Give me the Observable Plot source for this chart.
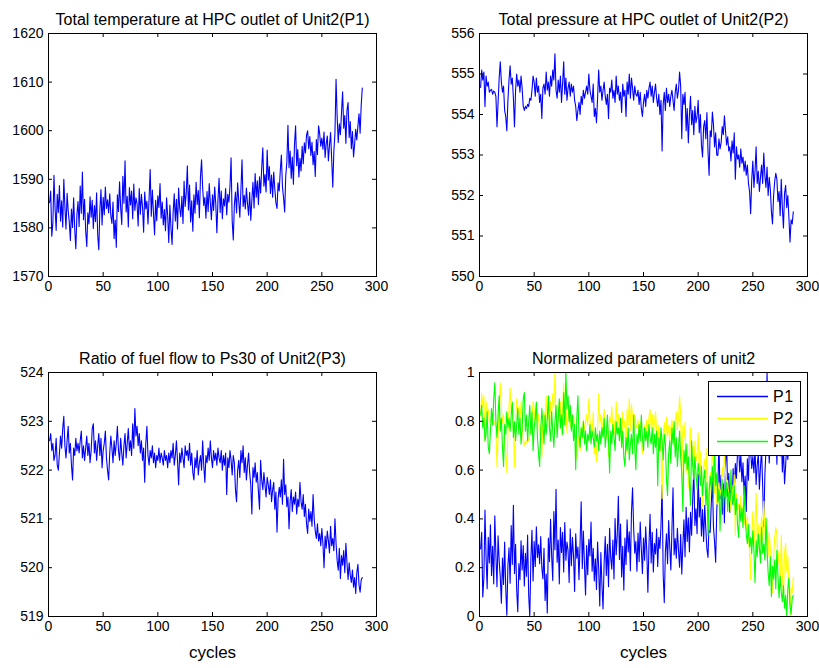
<!DOCTYPE html>
<html><head><meta charset="utf-8">
<script src="https://cdn.jsdelivr.net/npm/d3@7"></script>
<script src="https://cdn.jsdelivr.net/npm/@observablehq/plot@0.6"></script>
<style>
body{margin:0;background:#fff;}
#root{position:relative;width:819px;height:668px;overflow:hidden;font-family:"Liberation Sans",Arial,sans-serif;}
#root > svg{position:absolute;}
#legend{position:absolute;left:708px;top:381px;width:91px;height:73px;border:1px solid #000;background:#fff;}
#legend svg{position:absolute;left:0;top:0;}
</style></head><body><div id="root"></div>
<script>
const P1 = [
1585.2,1587.6,1578.3,1581.0,1590.8,1584.1,1579.5,1586.9,1583.2,1588.7,
1581.4,1585.6,1580.2,1590.0,1584.3,1579.8,1587.1,1583.5,1581.2,1577.4,
1583.9,1580.1,1586.2,1579.6,1575.7,1582.8,1585.4,1580.3,1588.6,1583.0,
1591.5,1581.7,1585.9,1579.4,1576.2,1583.1,1580.8,1586.4,1582.2,1585.7,
1579.9,1584.6,1581.3,1587.2,1578.5,1575.5,1583.8,1587.9,1580.6,1586.3,
1582.7,1588.4,1584.0,1585.8,1583.1,1587.0,1582.5,1580.9,1585.3,1577.8,
1581.6,1576.0,1586.8,1583.4,1589.5,1584.2,1580.7,1590.6,1585.1,1593.8,
1583.3,1586.5,1580.2,1588.3,1584.7,1587.6,1581.9,1589.0,1583.6,1586.2,
1585.0,1580.4,1588.1,1582.8,1586.9,1584.3,1579.1,1587.4,1583.9,1585.5,
1580.8,1586.1,1592.0,1582.4,1587.8,1583.0,1578.6,1585.7,1581.5,1586.6,
1584.2,1589.1,1582.0,1585.3,1580.6,1583.8,1579.4,1586.2,1582.5,1577.0,
1584.7,1580.0,1576.6,1583.2,1587.0,1581.4,1585.9,1579.8,1588.2,1584.0,
1582.3,1586.5,1580.9,1589.6,1584.4,1587.3,1592.8,1583.7,1588.8,1581.2,
1585.6,1579.3,1586.8,1583.0,1589.4,1584.8,1587.7,1582.1,1590.5,1594.0,
1588.2,1584.6,1586.3,1582.0,1587.5,1583.4,1589.1,1585.2,1581.7,1586.8,
1583.6,1588.4,1584.9,1579.0,1585.7,1590.2,1583.2,1587.6,1581.9,1586.0,
1584.5,1588.1,1582.7,1586.9,1585.3,1588.6,1594.4,1581.5,1577.5,1584.8,
1587.4,1583.1,1589.3,1585.6,1582.2,1587.9,1594.0,1584.4,1586.7,1583.9,
1588.2,1585.0,1582.6,1587.3,1581.6,1585.8,1589.4,1584.1,1591.2,1586.3,
1589.7,1584.8,1590.5,1587.2,1592.3,1596.5,1588.6,1591.0,1587.4,1596.0,
1589.8,1592.6,1587.1,1590.9,1586.3,1591.5,1588.0,1585.2,1584.0,1589.3,
1587.6,1591.8,1595.0,1588.4,1586.2,1583.3,1590.7,1593.5,1601.1,1592.4,
1595.8,1590.2,1594.6,1589.0,1597.2,1601.0,1592.8,1596.1,1590.5,1594.3,
1591.7,1596.8,1593.2,1597.5,1595.4,1599.1,1600.0,1596.3,1598.8,1594.9,
1597.6,1593.0,1595.7,1590.6,1598.2,1595.1,1601.0,1599.4,1596.8,1598.5,
1596.2,1599.7,1594.5,1597.3,1598.9,1593.8,1597.0,1599.6,1594.2,1588.4,
1595.8,1599.5,1610.6,1603.0,1597.6,1601.4,1599.2,1603.7,1608.0,1600.5,
1603.1,1597.4,1604.2,1605.8,1598.6,1601.9,1596.3,1599.8,1594.6,1597.2,
1600.3,1598.1,1601.0,1603.5,1599.5,1605.2,1608.8];

const P2 = [
554.67,555.10,554.85,555.05,554.20,554.95,554.70,554.80,554.55,554.60,
554.62,554.50,554.58,554.55,554.45,553.70,554.30,554.90,555.30,554.80,
554.55,554.70,554.10,553.95,553.60,554.35,554.85,555.20,554.75,554.90,
554.40,553.70,554.60,555.00,554.70,554.85,554.55,554.95,554.65,554.20,
554.10,554.20,554.15,554.25,554.20,554.40,554.35,554.60,554.95,554.80,
554.45,554.90,554.55,554.70,554.30,554.50,553.90,554.65,554.75,554.50,
555.05,554.60,554.80,554.45,554.95,554.70,555.10,554.85,555.50,554.60,
554.40,554.85,554.55,554.95,554.30,554.75,555.30,554.50,554.90,554.35,
554.65,554.80,554.45,554.75,554.55,554.70,554.35,554.20,553.85,554.10,
554.30,554.00,554.45,554.25,554.60,554.40,554.55,554.70,554.50,555.00,
554.60,554.45,554.30,554.75,553.95,554.15,553.80,554.40,555.10,554.55,
554.70,554.35,554.60,554.80,554.45,554.25,554.50,553.90,554.65,554.55,
554.85,554.40,554.60,554.30,554.95,554.50,554.70,554.35,554.55,554.05,
554.75,554.45,554.60,553.95,554.80,554.50,555.00,554.40,554.90,554.65,
554.35,554.70,554.50,554.45,554.60,554.25,554.55,554.15,553.95,554.30,
554.50,554.20,554.60,554.40,554.65,554.80,554.45,554.70,554.30,554.55,
554.75,554.40,554.20,554.50,554.00,554.35,553.10,554.25,554.55,554.10,
554.65,554.30,554.50,554.20,554.45,554.60,554.35,554.10,554.55,554.75,
554.40,554.60,555.05,554.70,553.40,554.50,554.25,554.55,553.60,554.15,
553.30,554.00,554.45,553.75,554.10,553.50,554.20,553.80,553.95,554.35,
553.55,554.00,553.25,552.95,553.70,553.85,553.40,554.05,553.10,552.50,
553.60,553.45,554.06,553.75,553.20,553.55,553.00,552.99,553.40,553.15,
553.30,553.70,553.50,553.97,553.60,553.25,553.45,553.10,553.20,552.85,
553.35,553.05,553.55,552.40,553.20,552.90,553.00,552.70,553.15,552.80,
552.95,552.60,552.85,552.50,552.75,552.30,552.10,551.55,552.40,552.85,
552.20,552.60,553.20,552.30,552.60,552.10,552.45,552.75,552.30,553.05,
552.50,552.20,552.70,552.00,552.45,552.15,551.60,551.30,552.00,552.35,
552.55,552.40,551.85,552.10,551.50,552.40,551.70,551.20,552.05,552.25,
551.70,552.00,551.45,550.85,551.40,551.30,551.60];

const P3 = [
522.60,522.75,522.40,522.55,522.20,522.30,522.65,522.10,522.00,522.35,
522.70,522.45,522.85,523.10,522.50,522.25,522.60,522.90,522.35,522.55,
522.10,521.80,522.45,522.30,522.65,522.40,522.55,522.35,522.60,522.80,
522.25,522.50,522.20,522.45,522.70,522.30,522.55,522.15,522.40,522.85,
522.95,522.35,522.60,522.20,522.50,522.75,522.30,522.65,522.05,522.40,
522.55,522.80,522.25,522.00,521.80,522.35,522.70,522.45,522.15,522.60,
522.30,522.55,522.90,522.40,522.20,522.65,522.35,522.10,522.50,522.75,
522.25,522.55,522.85,522.40,522.60,522.30,522.95,522.45,523.26,522.70,
522.90,522.50,522.75,522.35,522.60,522.20,522.45,521.75,522.55,522.90,
522.30,522.10,522.40,522.25,522.50,522.15,522.35,522.05,522.30,522.20,
522.45,522.15,522.35,522.25,522.10,522.40,522.20,522.30,522.05,522.35,
522.15,522.40,522.25,522.55,522.10,522.30,522.60,522.20,521.70,522.35,
522.15,522.45,522.25,522.05,522.50,522.30,522.40,522.20,522.55,522.10,
522.35,521.95,521.80,522.25,522.05,522.40,521.90,522.15,522.30,522.00,
522.60,522.10,521.75,522.30,522.15,522.45,522.20,522.60,522.25,522.05,
522.40,522.20,522.35,522.10,522.45,522.25,522.15,522.40,522.00,522.30,
522.10,522.35,521.50,522.25,522.05,522.40,522.20,521.90,522.30,522.15,
521.60,521.35,522.00,522.20,521.85,522.40,522.15,522.50,521.95,522.25,
521.80,522.10,522.35,521.95,521.70,521.10,522.05,521.85,522.15,521.75,
521.95,521.55,521.20,522.20,521.80,521.60,521.95,521.70,521.45,521.85,
521.70,521.50,521.80,521.35,521.60,521.75,521.20,521.55,520.73,521.40,
521.65,521.45,521.80,521.30,522.22,521.50,521.70,521.25,521.45,520.80,
521.35,521.60,521.15,521.45,521.30,521.55,521.10,521.40,521.25,521.75,
521.35,521.20,521.50,521.05,521.30,520.90,520.70,521.20,520.95,521.15,
520.85,521.50,521.00,520.75,520.60,520.90,520.55,520.70,520.45,520.80,
520.50,520.00,520.65,520.40,520.75,520.55,520.30,520.85,520.45,520.60,
520.35,521.00,520.50,520.15,519.95,520.40,519.78,520.25,520.05,520.35,
519.90,520.50,520.10,519.76,520.10,519.85,519.70,519.95,519.60,519.80,
519.47,519.90,520.07,519.65,519.50,519.75,519.80];

const xTicks = [0, 50, 100, 150, 200, 250, 300];
const yTicksP1 = [1570, 1580, 1590, 1600, 1610, 1620];
const yTicksP2 = [550, 551, 552, 553, 554, 555, 556];
const yTicksP3 = [519, 520, 521, 522, 523, 524];
const yTicksN = [0, 0.2, 0.4, 0.6, 0.8, 1];
const titles = [
  "Total temperature at HPC outlet of Unit2(P1)",
  "Total pressure at HPC outlet of Unit2(P2)",
  "Ratio of fuel flow to Ps30 of Unit2(P3)",
  "Normalized parameters of unit2"
];
const seriesNames = ["P1", "P2", "P3"];
const seriesColors = ["#0000ff", "#ffff00", "#00ff00"];
const xLabel = "cycles";

function normalize(arr) {
  const lo = d3.min(arr), hi = d3.max(arr);
  return arr.map(v => (v - lo) / (hi - lo));
}

const root = document.getElementById("root");

function panel(o) {
  const fw = o.width - o.ml - o.mr, fh = o.height - o.mt - o.mb;
  const marks = [
    ...o.series.map(s => Plot.lineY(s.values, {x: (d, i) => i + 1, y: d => d, stroke: s.color, strokeWidth: 1.1})),
    Plot.frame({stroke: "#000", strokeWidth: 1}),
    Plot.tickX(xTicks, {x: d => d, stroke: "#000", insetTop: fh - 4}),
    Plot.tickX(xTicks, {x: d => d, stroke: "#000", insetBottom: fh - 4}),
    Plot.tickY(o.yTicks, {y: d => d, stroke: "#000", insetRight: fw - 4}),
    Plot.tickY(o.yTicks, {y: d => d, stroke: "#000", insetLeft: fw - 4}),
    Plot.axisX(xTicks, {tickSize: 0, tickPadding: 5, fontSize: 14, label: null, tickFormat: d => String(d)}),
    Plot.axisY(o.yTicks, {tickSize: 0, tickPadding: 5, fontSize: 14, label: null, tickFormat: d => String(d)}),
    Plot.text([o.title], {text: d => d, frameAnchor: "top", dy: -9, lineAnchor: "bottom", fontSize: 16, letterSpacing: "1px", fill: "#000"})
  ];
  if (o.xlabel) marks.push(Plot.text([o.xlabel], {text: d => d, frameAnchor: "bottom", dy: 36, lineAnchor: "middle", fontSize: 17, letterSpacing: "1.2px", fill: "#000"}));
  const svg = Plot.plot({
    width: o.width, height: o.height,
    marginLeft: o.ml, marginRight: o.mr, marginTop: o.mt, marginBottom: o.mb,
    x: {domain: [0, 300], label: null},
    y: {domain: o.yDomain, label: null},
    style: {fontFamily: "'Liberation Sans', Arial, sans-serif", color: "#000", background: "transparent", overflow: "visible"},
    marks
  });
  svg.style.left = o.left + "px";
  svg.style.top = o.top + "px";
  root.appendChild(svg);
}

panel({left: 0, top: 0, width: 409, height: 310, ml: 48, mr: 33, mt: 33, mb: 34,
  yDomain: [1570, 1620], yTicks: yTicksP1, title: titles[0],
  series: [{values: P1, color: seriesColors[0]}]});
panel({left: 409, top: 0, width: 410, height: 310, ml: 70, mr: 12, mt: 33, mb: 34,
  yDomain: [550, 556], yTicks: yTicksP2, title: titles[1],
  series: [{values: P2, color: seriesColors[0]}]});
panel({left: 0, top: 330, width: 409, height: 338, ml: 48, mr: 33, mt: 42, mb: 52,
  yDomain: [519, 524], yTicks: yTicksP3, title: titles[2], xlabel: xLabel,
  series: [{values: P3, color: seriesColors[0]}]});
panel({left: 409, top: 330, width: 410, height: 338, ml: 70, mr: 12, mt: 42, mb: 52,
  yDomain: [0, 1], yTicks: yTicksN, title: titles[3], xlabel: xLabel,
  series: [P1, P2, P3].map((s, i) => ({values: normalize(s), color: seriesColors[i]}))});

// legend (inline SVG inside a bordered box)
const lg = document.createElement("div");
lg.id = "legend";
const ns = "http://www.w3.org/2000/svg";
const ls = document.createElementNS(ns, "svg");
ls.setAttribute("width", 91); ls.setAttribute("height", 73);
const rowY = [14.5, 36.5, 59.5];
seriesNames.forEach((name, i) => {
  const line = document.createElementNS(ns, "line");
  line.setAttribute("x1", 8); line.setAttribute("x2", 59);
  line.setAttribute("y1", rowY[i]); line.setAttribute("y2", rowY[i]);
  line.setAttribute("stroke", seriesColors[i]); line.setAttribute("stroke-width", 1.3);
  ls.appendChild(line);
  const t = document.createElementNS(ns, "text");
  t.setAttribute("x", 64); t.setAttribute("y", rowY[i] + 5.5);
  t.setAttribute("font-size", 16); t.setAttribute("letter-spacing", "0.5px");
  t.setAttribute("font-family", "'Liberation Sans', Arial, sans-serif");
  t.textContent = name;
  ls.appendChild(t);
});
lg.appendChild(ls);
root.appendChild(lg);
</script>
</body></html>
